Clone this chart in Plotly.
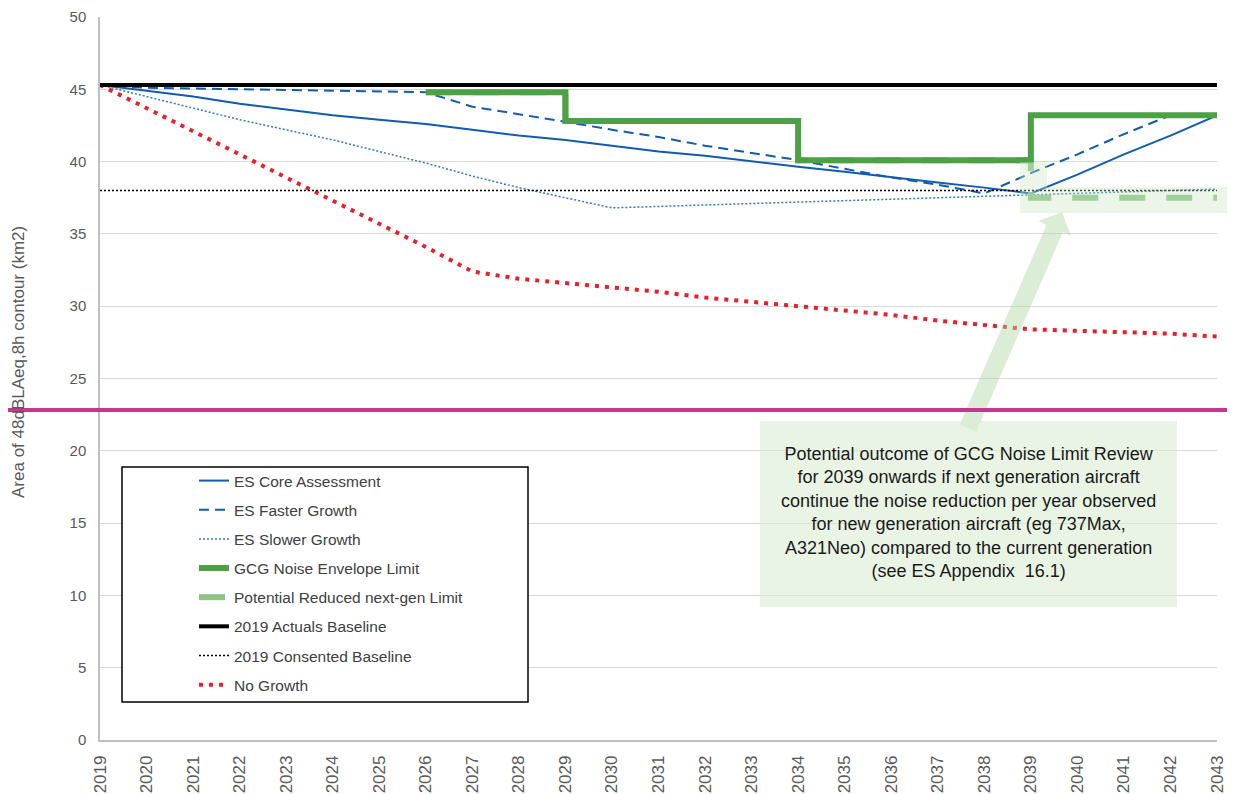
import plotly.graph_objects as go

# page has an 8px body margin, so the figure is drawn 8px smaller
# and every page-pixel position below is shifted by OFF
OFF = 8
W, H = 1235 - OFF, 794 - OFF
L, R, T, B = 100 - OFF, 1217 - OFF, 17 - OFF, 740 - OFF

GRID   = "#D9D9D9"
AXIS   = "#BFBFBF"
TXT    = "#595959"
BLUE   = "#0F5CB0"
BLUE_L = "#2F78C8"
GREEN  = "#4EA046"
GREEN_L = "#8CC486"
RED    = "#E8202A"
MAGENTA = "#C8358E"

years = list(range(2019, 2044))

core = [45.3, 44.9, 44.5, 44.0, 43.6, 43.2, 42.9, 42.6, 42.2, 41.8, 41.5, 41.1, 40.7,
        40.4, 40.0, 39.65, 39.3, 38.9, 38.55, 38.2, 37.8, 39.1, 40.5, 41.8, 43.2]
faster = [45.3, 45.1, 45.05, 45.0, 44.95, 44.9, 44.85, 44.8, 43.8, 43.3, 42.75, 42.2, 41.7,
          41.1, 40.6, 40.1, 39.5, 38.9, 38.4, 37.8, 39.2, 40.5, 41.9, 43.2, 43.2]
slower = [45.3, 44.5, 43.7, 42.9, 42.2, 41.5, 40.7, 39.9, 39.0, 38.2, 37.5, 36.8, 36.9,
          37.0, 37.1, 37.2, 37.3, 37.4, 37.5, 37.55, 37.7, 37.8, 37.9, 38.0, 38.1]
envelope = [None] * 7 + [44.8] * 3 + [42.8] * 5 + [40.1] * 5 + [43.2] * 5
reduced = [None] * 7 + [44.8] * 3 + [42.8] * 5 + [40.1] * 5 + [37.5] * 5
actuals = [45.3] * 25
consented = [38.0] * 25
no_growth = [45.3, 43.7, 42.1, 40.5, 38.9, 37.3, 35.7, 34.1, 32.4, 31.9, 31.6, 31.3, 31.0,
             30.6, 30.3, 30.0, 29.7, 29.4, 29.0, 28.7, 28.4, 28.3, 28.2, 28.1, 27.9]

note = ("Potential outcome of GCG Noise Limit Review<br>"
        "for 2039 onwards if next generation aircraft<br>"
        "continue the noise reduction per year observed<br>"
        "for new generation aircraft (eg 737Max,<br>"
        "A321Neo) compared to the current generation<br>"
        "(see ES Appendix  16.1)")


def px(x):
    # page x pixel -> paper
    return (x - OFF - L) / (R - L)


def py(y):
    # page y pixel -> paper
    return (B - (y - OFF)) / (B - T)


fig = go.Figure()

# (name, y, colour, width, dash, shape, legend rank)
series = [
    ("ES Core Assessment", core, BLUE, 2, "solid", "linear", 1),
    ("ES Faster Growth", faster, BLUE, 2, "10px,6px", "linear", 2),
    ("ES Slower Growth", slower, BLUE_L, 1.5, "2px,2px", "linear", 3),
    ("No Growth", no_growth, RED, 4, "4px,6px", "linear", 8),
    ("2019 Consented Baseline", consented, "#000000", 1.5, "2px,2px", "linear", 7),
    ("Potential Reduced next-gen Limit", reduced, GREEN_L, 6, "26px,21px", "hv", 5),
    ("GCG Noise Envelope Limit", envelope, GREEN, 6, "solid", "hv", 4),
    ("2019 Actuals Baseline", actuals, "#000000", 4, "solid", "linear", 6),
]
for name, ys, col, wd, dash, shp, rank in series:
    fig.add_trace(go.Scatter(
        x=years, y=ys, name=name, mode="lines", legendrank=rank, legendgroup=name,
        line=dict(color=col, width=wd, dash=dash, shape=shp),
    ))

shapes = [
    # highlight of reduced limit
    dict(type="path", xref="paper", yref="paper", layer="above",
         path=(f"M {px(1020)},{py(162)} L {px(1047)},{py(162)} L {px(1047)},{py(187)} "
               f"L {px(1231)},{py(187)} L {px(1231)},{py(213)} L {px(1020)},{py(213)} Z"),
         fillcolor="rgba(200,228,190,0.35)", line=dict(width=0)),
    # arrow
    dict(type="path", xref="paper", yref="paper", layer="above",
         path=(f"M {px(1062)},{py(212)} L {px(1071)},{py(236)} L {px(1063)},{py(232)} "
               f"L {px(976)},{py(432)} L {px(960)},{py(424)} L {px(1046.5)},{py(225)} "
               f"L {px(1038.5)},{py(221)} Z"),
         fillcolor="rgba(175,215,160,0.45)", line=dict(width=0)),
    # note box
    dict(type="rect", xref="paper", yref="paper", layer="above",
         x0=px(760), x1=px(1177), y0=py(607), y1=py(421),
         fillcolor="rgba(218,236,210,0.6)", line=dict(width=0)),
    # magenta marker line
    dict(type="line", xref="paper", yref="paper", layer="above",
         x0=px(OFF), x1=px(1235), y0=py(410), y1=py(410),
         line=dict(color=MAGENTA, width=4)),
    # legend frame
    dict(type="rect", xref="paper", yref="paper", layer="above",
         x0=px(122), x1=px(528), y0=py(702), y1=py(467),
         fillcolor="white", line=dict(color="#000000", width=1.5)),
]

fig.update_layout(
    width=W, height=H,
    paper_bgcolor="white", plot_bgcolor="white",
    margin=dict(l=L, r=W - R, t=T, b=H - B, autoexpand=False),
    font=dict(family="Liberation Sans, Arial, sans-serif", color=TXT, size=14),
    shapes=shapes,
    showlegend=True,
    legend=dict(
        x=px(194), y=py(464), xanchor="left", yanchor="top",
        bgcolor="rgba(255,255,255,0)", borderwidth=0,
        font=dict(size=15.5, color="#404040"), tracegroupgap=6,
        itemwidth=30,
    ),
    xaxis=dict(
        range=[2019, 2043], dtick=1, tick0=2019, tickangle=-90, automargin=False,
        showgrid=False, zeroline=False, showline=True, linecolor=AXIS, linewidth=1.5,
        tickfont=dict(size=17, color=TXT), ticks="", ticklabelstandoff=7,
    ),
    yaxis=dict(
        range=[0, 50], dtick=5, showgrid=True, gridcolor=GRID, gridwidth=1, automargin=False,
        zeroline=False, showline=True, linecolor=AXIS, linewidth=1.5,
        tickfont=dict(size=15, color=TXT), ticks="", ticklabelstandoff=9,
    ),
    annotations=[
        dict(text=note, xref="paper", yref="paper", x=px(968), y=py(512),
             xanchor="center", yanchor="middle", showarrow=False, align="center",
             font=dict(size=18, color="#1A1A1A")),
        dict(text="Area of 48dBLAeq,8h contour (km2)", xref="paper", yref="paper",
             x=px(18), y=py(362), xanchor="center", yanchor="middle", textangle=-90,
             showarrow=False, font=dict(size=17, color=TXT)),
    ],
)

fig.write_html("out.html")
